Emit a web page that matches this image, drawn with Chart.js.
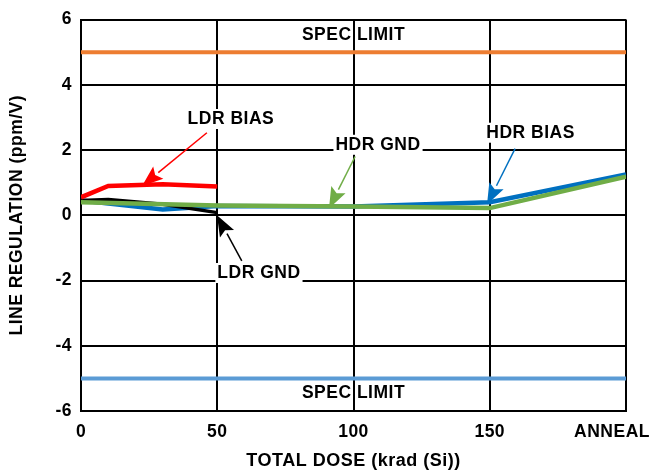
<!DOCTYPE html>
<html>
<head>
<meta charset="utf-8">
<script src="https://cdn.jsdelivr.net/npm/chart.js@4.4.1/dist/chart.umd.min.js"></script>
<style>
  html, body { margin: 0; padding: 0; background: #fff; }
  #wrap { width: 652px; height: 472px; }
</style>
</head>
<body>
<div id="wrap"><canvas id="chart" width="652" height="472"></canvas></div>
<script>
// x: total dose (krad), 200 = anneal
const xTicks = [0, 50, 100, 150, 200];
const xTickLabels = ['0', '50', '100', '150', 'ANNEAL'];

const ldrBiasX = [0, 10, 30, 50];
const ldrBiasY = [0.55, 0.9, 0.95, 0.88];

const ldrGndX = [0, 10, 30, 50];
const ldrGndY = [0.45, 0.48, 0.34, 0.08];

const hdrBiasX = [0, 30, 50, 100, 150, 200];
const hdrBiasY = [0.45, 0.18, 0.28, 0.27, 0.4, 1.25];

const hdrGndX = [0, 50, 100, 150, 200];
const hdrGndY = [0.4, 0.3, 0.27, 0.22, 1.18];

const specUpper = 5;
const specLower = -5;

const FONT = '"Liberation Sans", Arial, sans-serif';
const SPACING = '0.5px';

function pts(xs, ys) {
  return xs.map((x, i) => ({ x: x, y: ys[i] }));
}

// labels + arrows (data units)
const notes = [
  { text: 'SPEC LIMIT', x: 100, y: 5.52 },
  { text: 'SPEC LIMIT', x: 100, y: -5.46 },
  { text: 'LDR BIAS', x: 55, y: 2.95, bg: true, color: '#ff0000', from: [46.2, 2.53], to: [22.4, 0.9] },
  { text: 'HDR GND', x: 109, y: 2.16, bg: true, color: '#70ad47', from: [100.6, 1.8], to: [91, 0.21] },
  { text: 'HDR BIAS', x: 165, y: 2.53, bg: true, color: '#0070c0', from: [159.3, 2.04], to: [149, 0.33] },
  { text: 'LDR GND', x: 65.3, y: -1.77, bg: true, color: '#000000', from: [59, -1.4], to: [49.9, 0.0] },
];

const notesPlugin = {
  id: 'notes',
  beforeDraw(chart) {
    chart.ctx.letterSpacing = SPACING;
  },
  afterDatasetsDraw(chart) {
    const c = chart.ctx;
    const xs = chart.scales.x, ys = chart.scales.y;
    c.save();
    c.letterSpacing = SPACING;
    // arrows
    notes.forEach(n => {
      if (!n.from) return;
      const x1 = xs.getPixelForValue(n.from[0]), y1 = ys.getPixelForValue(n.from[1]);
      const x2 = xs.getPixelForValue(n.to[0]), y2 = ys.getPixelForValue(n.to[1]);
      const a = Math.atan2(y2 - y1, x2 - x1);
      const len = 21, half = 8;
      const bx = x2 - len * Math.cos(a), by = y2 - len * Math.sin(a);
      c.strokeStyle = n.color;
      c.fillStyle = n.color;
      c.lineWidth = 1.5;
      c.beginPath();
      c.moveTo(x1, y1);
      c.lineTo(bx, by);
      c.stroke();
      c.beginPath();
      c.moveTo(x2, y2);
      c.lineTo(bx + half * Math.sin(a), by - half * Math.cos(a));
      c.lineTo(x2 - (len - 4) * Math.cos(a), y2 - (len - 4) * Math.sin(a));
      c.lineTo(bx - half * Math.sin(a), by + half * Math.cos(a));
      c.closePath();
      c.fill();
    });
    // texts
    c.font = 'bold 17.5px ' + FONT;
    c.textAlign = 'center';
    c.textBaseline = 'middle';
    notes.forEach(n => {
      const px = xs.getPixelForValue(n.x), py = ys.getPixelForValue(n.y);
      if (n.bg) {
        const w = c.measureText(n.text).width;
        c.fillStyle = '#fff';
        c.fillRect(px - w / 2 - 2, py - 10, w + 4, 20);
      }
      c.fillStyle = '#000';
      c.fillText(n.text, px, py);
    });
    // x tick labels
    c.font = 'bold 17.5px ' + FONT;
    c.textBaseline = 'middle';
    xTicks.forEach((v, i) => {
      let px = xs.getPixelForValue(v);
      if (i === xTicks.length - 1) {
        c.textAlign = 'right';
        px = chart.width - 2;
      } else {
        c.textAlign = 'center';
      }
      c.fillText(xTickLabels[i], px, xs.top + 21);
    });
    c.restore();
  }
};

const lineDs = (label, data, color, width) => ({
  label, data, borderColor: color, backgroundColor: color,
  borderWidth: width, pointRadius: 0, tension: 0, fill: false,
  borderCapStyle: 'butt', borderJoinStyle: 'miter'
});

new Chart(document.getElementById('chart'), {
  type: 'line',
  data: {
    datasets: [
      lineDs('SPEC UPPER', pts([0, 200], [specUpper, specUpper]), '#ed7d31', 4),
      lineDs('SPEC LOWER', pts([0, 200], [specLower, specLower]), '#5b9bd5', 4),
      lineDs('HDR BIAS', pts(hdrBiasX, hdrBiasY), '#0070c0', 4.5),
      lineDs('LDR GND', pts(ldrGndX, ldrGndY), '#000000', 3.5),
      lineDs('HDR GND', pts(hdrGndX, hdrGndY), '#70ad47', 4.5),
      lineDs('LDR BIAS', pts(ldrBiasX, ldrBiasY), '#ff0000', 4.5),
    ].reverse()
  },
  options: {
    responsive: false,
    animation: false,
    events: [],
    layout: { padding: { top: 17, right: 26, left: 0, bottom: 0 } },
    plugins: {
      legend: { display: false },
      tooltip: { enabled: false }
    },
    scales: {
      x: {
        type: 'linear',
        min: 0, max: 200,
        afterBuildTicks(scale) { scale.ticks = xTicks.map(v => ({ value: v })); },
        afterFit(scale) { scale.height = 61; scale.paddingLeft = 0; scale.paddingRight = 0; },
        grid: { color: '#000', lineWidth: 2, drawTicks: false },
        border: { color: '#000', width: 2 },
        ticks: { display: false },
        title: {
          display: true, text: 'TOTAL DOSE (krad (Si))', color: '#000',
          font: { family: FONT, size: 18, weight: 'bold' }, padding: { top: 0, bottom: 0 }
        }
      },
      y: {
        min: -6, max: 6,
        ticks: {
          stepSize: 2, color: '#000', padding: 9,
          font: { family: FONT, size: 17.5, weight: 'bold' }
        },
        afterFit(scale) { scale.width = 81; },
        grid: { color: '#000', lineWidth: 2, drawTicks: false },
        border: { color: '#000', width: 2 },
        title: {
          display: true, text: 'LINE REGULATION (ppm/V)', color: '#000',
          font: { family: FONT, size: 17.5, weight: 'bold' }, padding: { top: 7, bottom: 0 }
        }
      }
    }
  },
  plugins: [notesPlugin]
});
</script>
</body>
</html>
